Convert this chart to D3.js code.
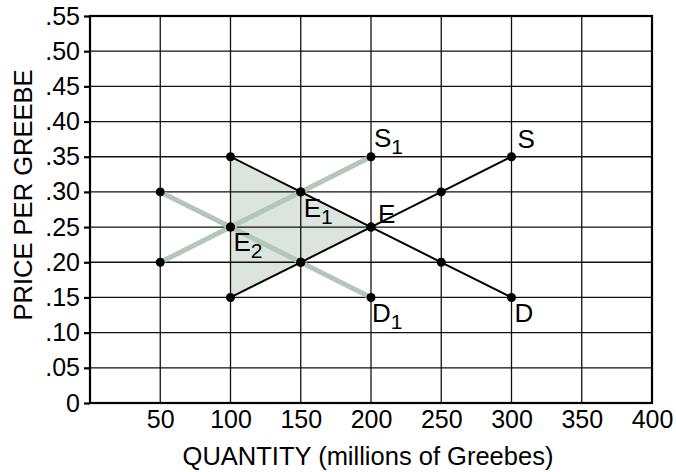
<!DOCTYPE html>
<html>
<head>
<meta charset="utf-8">
<script src="https://cdn.jsdelivr.net/npm/d3@7"></script>
<style>
  body { margin: 0; background: #fff; }
  text { font-family: "Liberation Sans", Arial, sans-serif; fill: #000; }
</style>
</head>
<body>
<div id="chart"></div>
<script>
var width = 676;
var height = 472;

// data
var xTicks = [50, 100, 150, 200, 250, 300, 350, 400];
var yTicks = [0, 0.05, 0.10, 0.15, 0.20, 0.25, 0.30, 0.35, 0.40, 0.45, 0.50, 0.55];
var supply = [[100, 0.15], [150, 0.20], [200, 0.25], [250, 0.30], [300, 0.35]];
var demand = [[100, 0.35], [150, 0.30], [200, 0.25], [250, 0.20], [300, 0.15]];
var supply1 = [[50, 0.20], [100, 0.25], [150, 0.30], [200, 0.35]];
var demand1 = [[50, 0.30], [100, 0.25], [150, 0.20], [200, 0.15]];
var triangle = [[100, 0.35], [200, 0.25], [100, 0.15]];
var labels = [
  { main: "S", sub: "1", q: 200, p: 0.35, dx: 3, dy: -10 },
  { main: "S", sub: "", q: 300, p: 0.35, dx: 6, dy: -9 },
  { main: "E", sub: "1", q: 150, p: 0.30, dx: 3, dy: 25 },
  { main: "E", sub: "", q: 200, p: 0.25, dx: 7, dy: -4 },
  { main: "E", sub: "2", q: 100, p: 0.25, dx: 3, dy: 24 },
  { main: "D", sub: "1", q: 200, p: 0.15, dx: 1, dy: 25 },
  { main: "D", sub: "", q: 300, p: 0.15, dx: 3, dy: 25 }
];

var margin = { top: 16, right: 24, bottom: 69, left: 90 };

var svg = d3.select("#chart")
    .append("svg")
    .attr("width", width)
    .attr("height", height);

var x = d3.scaleLinear().domain([0, 400]).range([margin.left, width - margin.right]);
var y = d3.scaleLinear().domain([0, 0.55]).range([height - margin.bottom, margin.top]);

var fmtY = function(d) { return d === 0 ? "0" : d3.format(".2f")(d).replace(/^0/, ""); };

// shaded area
svg.append("path")
    .datum(triangle)
    .attr("d", d3.line().x(function(d) { return x(d[0]); }).y(function(d) { return y(d[1]); }).curve(d3.curveLinearClosed))
    .attr("fill", "#dbe4dd");

// grid
svg.append("g")
    .selectAll("line.vg")
    .data(xTicks.slice(0, -1))
    .enter().append("line")
    .attr("x1", function(d) { return x(d); })
    .attr("x2", function(d) { return x(d); })
    .attr("y1", y(0))
    .attr("y2", y(0.55))
    .style("stroke", "#111")
    .style("stroke-width", 1.3);

svg.append("g")
    .selectAll("line.hg")
    .data(yTicks.slice(1, -1))
    .enter().append("line")
    .attr("x1", x(0))
    .attr("x2", x(400))
    .attr("y1", function(d) { return y(d); })
    .attr("y2", function(d) { return y(d); })
    .style("stroke", "#111")
    .style("stroke-width", 1.3);

// frame
svg.append("rect")
    .attr("x", x(0))
    .attr("y", y(0.55))
    .attr("width", x(400) - x(0))
    .attr("height", y(0) - y(0.55))
    .attr("fill", "none")
    .style("stroke", "#000")
    .style("stroke-width", 2.2);

// y axis
var yAxis = svg.append("g")
    .attr("transform", "translate(" + x(0) + ",0)")
    .call(d3.axisLeft(y).tickValues(yTicks).tickFormat(fmtY).tickSize(6).tickPadding(4));
yAxis.select(".domain").remove();
yAxis.selectAll(".tick line").style("stroke", "#000").style("stroke-width", 2.2);
yAxis.selectAll("text")
    .style("font-size", "25px")
    .style("font-family", "'Liberation Sans', Arial, sans-serif")
    .attr("fill", "#000");

// x axis
var xAxis = svg.append("g")
    .attr("transform", "translate(0," + y(0) + ")")
    .call(d3.axisBottom(x).tickValues(xTicks).tickSize(0).tickPadding(7));
xAxis.select(".domain").remove();
xAxis.selectAll("text")
    .style("font-size", "25px")
    .style("font-family", "'Liberation Sans', Arial, sans-serif")
    .attr("fill", "#000");

// shifted curves
var line = d3.line().x(function(d) { return x(d[0]); }).y(function(d) { return y(d[1]); });

[supply1, demand1].forEach(function(s) {
    svg.append("path")
        .datum(s)
        .attr("d", line)
        .attr("fill", "none")
        .style("stroke", "#b3c6b8")
        .style("stroke-width", 5);
});

[supply, demand].forEach(function(s) {
    svg.append("path")
        .datum(s)
        .attr("d", line)
        .attr("fill", "none")
        .style("stroke", "#000")
        .style("stroke-width", 2);
});

// points
var pts = [].concat(supply, demand, supply1, demand1);
svg.append("g")
    .selectAll("circle")
    .data(pts)
    .enter().append("circle")
    .attr("cx", function(d) { return x(d[0]); })
    .attr("cy", function(d) { return y(d[1]); })
    .attr("r", 4.5)
    .attr("fill", "#000");

// curve labels
var lab = svg.append("g")
    .selectAll("text")
    .data(labels)
    .enter().append("text")
    .attr("x", function(d) { return x(d.q) + d.dx; })
    .attr("y", function(d) { return y(d.p) + d.dy; })
    .style("font-size", "26px");
lab.append("tspan").text(function(d) { return d.main; });
lab.append("tspan")
    .attr("dy", 7)
    .style("font-size", "21px")
    .text(function(d) { return d.sub; });

// axis titles
svg.append("text")
    .attr("x", (x(0) + x(400)) / 2 - 3)
    .attr("y", 465)
    .style("text-anchor", "middle")
    .style("font-size", "25.5px")
    .text("QUANTITY (millions of Greebes)");

svg.append("text")
    .attr("transform", "translate(32,195) rotate(-90)")
    .style("text-anchor", "middle")
    .style("font-size", "25.5px")
    .text("PRICE PER GREEBE");
</script>
</body>
</html>
